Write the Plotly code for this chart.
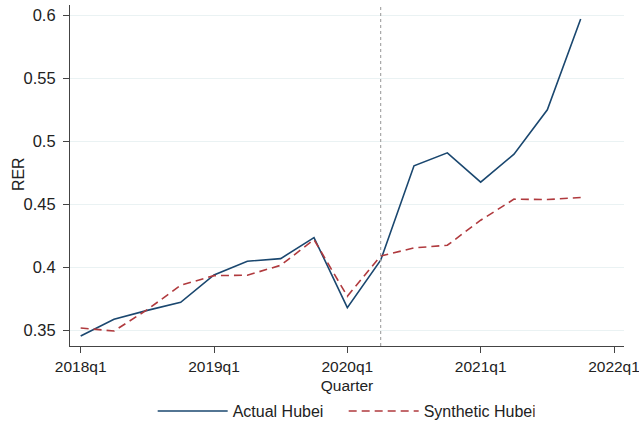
import plotly.graph_objects as go

quarters = ["2018q1","2018q2","2018q3","2018q4","2019q1","2019q2","2019q3","2019q4",
            "2020q1","2020q2","2020q3","2020q4","2021q1","2021q2","2021q3","2021q4"]
actual = [0.3452,0.3585,0.3656,0.3720,0.3937,0.4046,0.4067,0.4234,
          0.3678,0.4054,0.4804,0.4907,0.4674,0.4896,0.5249,0.5970]
synthetic = [0.3516,0.3492,0.3662,0.3855,0.3932,0.3935,0.4014,0.4218,
             0.3768,0.4088,0.4152,0.4173,0.4372,0.4539,0.4536,0.4552]
tick_labels = ["2018q1","2019q1","2020q1","2021q1","2022q1"]
tick_pos = [0, 4, 8, 12, 16]
treat_q = 9
y_ticks = [0.35, 0.4, 0.45, 0.5, 0.55, 0.6]
y_labels = ["0.35", "0.4", "0.45", "0.5", "0.55", "0.6"]

xi = list(range(len(quarters)))

fig = go.Figure()
fig.add_trace(go.Scatter(x=xi, y=actual, mode="lines", name="Actual Hubei",
                         line=dict(color="#1a476f", width=1.6)))
fig.add_trace(go.Scatter(x=xi, y=synthetic, mode="lines", name="Synthetic Hubei",
                         line=dict(color="#b03a3e", width=1.6, dash="8px,5px")))
fig.add_vline(x=treat_q, line=dict(color="#a0a0a0", width=1.1, dash="dot"))

font = "Liberation Sans, Arial, sans-serif"
fig.update_layout(
    width=639, height=423,
    margin=dict(l=70, r=15, t=5, b=77, autoexpand=False),
    paper_bgcolor="white", plot_bgcolor="white",
    font=dict(family=font, size=15.5, color="#222222"),
    showlegend=True,
    legend=dict(orientation="h", x=0.494, xanchor="center",
                yref="container", y=0.028, yanchor="middle",
                font=dict(size=16), itemwidth=70, bgcolor="rgba(0,0,0,0)",
                entrywidth=106, tracegroupgap=0),
    xaxis=dict(range=[-0.32, 16.3], tickmode="array", tickvals=tick_pos, ticktext=tick_labels,
               showgrid=False, zeroline=False, showline=True, linecolor="#444444", linewidth=1.2,
               ticks="outside", ticklen=6, tickcolor="#444444", tickwidth=1.2,
               tickfont=dict(size=15.5), ticklabeloverflow="allow",
               title=dict(text="Quarter", standoff=6, font=dict(size=15.5)), automargin=False),
    yaxis=dict(range=[0.3373, 0.6081], tickmode="array", tickvals=y_ticks, ticktext=y_labels,
               showgrid=True, gridcolor="#eaf2f3", gridwidth=1.2, zeroline=False,
               showline=True, linecolor="#444444", linewidth=1.2,
               ticks="outside", ticklen=6, tickcolor="#444444", tickwidth=1.2,
               tickfont=dict(size=16.5), ticklabelstandoff=4, automargin=False),
    annotations=[dict(text="RER", xref="paper", yref="paper", x=-0.0939, y=0.504,
                      xanchor="center", yanchor="middle", textangle=-90, showarrow=False,
                      font=dict(size=16, family=font, color="#222222"))],
)

fig.write_html("out.html")
